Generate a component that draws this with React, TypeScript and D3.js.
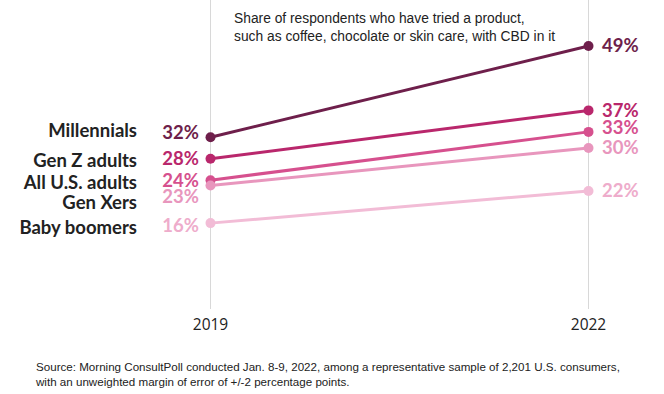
import React from "react";
import * as d3 from "d3";

const years = ["2019", "2022"];
const groups = ["Millennials", "Gen Z adults", "All U.S. adults", "Gen Xers", "Baby boomers"];
const values2019 = [32, 28, 24, 23, 16];
const values2022 = [49, 37, 33, 30, 22];
const colors = ["#6e1f4b", "#b9276c", "#d6508e", "#e896bd", "#f2bcd6"];
const labelColors = ["#6e1f4b", "#b9276c", "#d6508e", "#e896bd", "#eeaccb"];
// label y offsets (to avoid overlap) in value units
const leftNameOffsets = [1.3, -0.4, -0.5, -3.25, -0.9];
const leftPctOffsets = [0.8, 0, -0.15, -2.1, -0.5];
const rightPctOffsets = [0, 0, 0.85, 0, 0];

const W = 664, H = 394;
const font = "'Lato', 'Open Sans', sans-serif";

export default function App() {
  const x = d3.scalePoint<string>().domain(years).range([210.5, 588.5]);
  const y = d3.scaleLinear().domain([0, 49]).range([309, 46]);
  const line = d3.line<[string, number]>().x((d) => x(d[0])!).y((d) => y(d[1]));

  return (
    <svg width={W} height={H} style={{ position: "absolute", left: 0, top: 0 }}>
      <rect width={W} height={H} fill="#fff" />
      {years.map((yr) => (
        <line key={yr} x1={x(yr)} x2={x(yr)} y1={0} y2={y(0)} stroke="#d8d8d8" strokeWidth={1} />
      ))}
      {years.map((yr) => (
        <text key={yr} x={x(yr)} y={330} textAnchor="middle" fontFamily="'Open Sans', sans-serif" fontSize={15.5} fill="#222">
          {yr}
        </text>
      ))}
      <text fontFamily="'Liberation Sans', Arial, sans-serif" fontSize={13.8} fill="#222">
        <tspan x={234} y={23}>Share of respondents who have tried a product,</tspan>
        <tspan x={234} y={41}>such as coffee, chocolate or skin care, with CBD in it</tspan>
      </text>
      {groups.map((g, i) => {
        const pts: [string, number][] = [["2019", values2019[i]], ["2022", values2022[i]]];
        return (
          <g key={g}>
            <path d={line(pts)!} stroke={colors[i]} strokeWidth={3} fill="none" />
            {pts.map((p) => (
              <circle key={p[0]} cx={x(p[0])} cy={y(p[1])} r={5} fill={colors[i]} />
            ))}
          </g>
        );
      })}
      {groups.map((g, i) => (
        <g key={g + "lab"}>
          <text x={137} y={y(values2019[i] + leftNameOffsets[i])} dy="0.35em" textAnchor="end" fontFamily={font} fontWeight={700} fontSize={18.5} fill="#222">
            {g}
          </text>
          <text x={199} y={y(values2019[i] + leftPctOffsets[i])} dy="0.35em" textAnchor="end" fontFamily={font} fontWeight={700} fontSize={18.5} fill={labelColors[i]}>
            {values2019[i]}%
          </text>
          <text x={602} y={y(values2022[i] + rightPctOffsets[i])} dy="0.35em" textAnchor="start" fontFamily={font} fontWeight={700} fontSize={18.5} fill={labelColors[i]}>
            {values2022[i]}%
          </text>
        </g>
      ))}
      <text fontFamily="'Liberation Sans', Arial, sans-serif" fontSize={11.6} fill="#222">
        <tspan x={36} y={371}>Source: Morning ConsultPoll conducted Jan. 8-9, 2022, among a representative sample of 2,201 U.S. consumers,</tspan>
        <tspan x={36} y={386}>with an unweighted margin of error of +/-2 percentage points.</tspan>
      </text>
    </svg>
  );
}
